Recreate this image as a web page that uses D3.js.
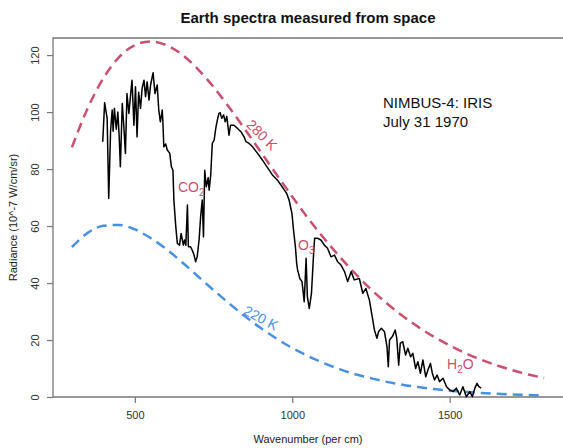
<!DOCTYPE html>
<html><head><meta charset="utf-8">
<script src="https://cdn.jsdelivr.net/npm/d3@7"></script>
<style>body{margin:0;background:#fff}svg{display:block}text{font-family:"Liberation Sans",Arial,Helvetica,sans-serif}</style>
</head><body><svg id="c" width="563" height="448"></svg>
<script>
// Planck curve samples (wavenumber per cm)
const planckNu = [300,350,400,450,500,550,600,650,700,750,800,850,900,950,1000,1050,1100,1150,1200,1250,1300,1350,1400,1450,1500,1550,1600,1650,1700,1750,1800];
const b280 = [87.6,101.3,111.9,119.3,123.5,124.8,123.5,120.2,115.1,108.8,101.6,93.9,86.0,78.1,70.3,62.8,55.8,49.3,43.3,37.8,32.9,28.5,24.6,21.1,18.1,15.4,13.1,11.1,9.4,7.9,6.7];
const b220 = [52.6,57.6,60.1,60.4,58.8,55.8,51.9,47.3,42.4,37.5,32.8,28.3,24.2,20.5,17.2,14.4,11.9,9.8,8.0,6.6,5.3,4.3,3.5,2.8,2.2,1.8,1.4,1.1,0.9,0.7,0.5];
// Measured spectrum
const specNu = [398,404,412,417,423,428,431,435,441,446,450,454,460,465,470,475,481,486,491,497,502,507,512,518,523,529,534,539,545,550,558,564,571,576,581,587,589,592,598,603,611,616,621,624,630,635,642,647,654,658,662,667,670,677,682,688,693,698,704,709,714,718,722,727,733,736,741,746,752,757,762,767,771,776,782,787,792,799,804,815,826,831,837,847,853,863,874,890,905,916,927,937,953,964,975,982,990,999,1004,1010,1014,1017,1024,1031,1038,1044,1048,1054,1061,1067,1071,1081,1091,1102,1112,1123,1134,1144,1155,1166,1176,1187,1197,1213,1224,1234,1245,1254,1261,1269,1274,1283,1293,1301,1305,1309,1318,1327,1332,1338,1343,1351,1360,1367,1376,1383,1392,1399,1407,1415,1424,1431,1439,1445,1452,1460,1468,1479,1490,1500,1511,1521,1532,1542,1553,1564,1572,1580,1587,1593,1600];
const specRad = [89.6,103.3,97.8,69.7,93.7,100.7,93.3,101.3,94,100,92,80.8,103,95,85.5,106.5,99.5,105.4,111.2,95.4,108.9,91.3,107,101.3,108.3,111.2,105.4,110.6,104.2,109.5,113.8,106.5,109.5,100.7,96.6,100.7,96.6,87.8,88.8,86.7,85.5,80.8,79.6,69.1,59.8,53.9,53.3,57.4,53.3,55.1,53.3,67.4,52.7,52.7,51.6,49.8,47.5,49.2,55.1,63.3,69.1,56.2,79.6,73.8,77,72.6,77.9,89,90.2,94.3,97.2,99.5,99.8,97.8,99,96.6,98.5,91.9,95.4,95.4,94.3,93.7,93.1,91.3,89.6,89,87.8,85.5,83.2,81.4,79.6,77.9,76.1,74.4,72.6,71.5,69.1,64.4,58.6,52.7,46.9,44.6,41.6,40.5,33.4,48.7,35.2,31.1,36.4,48.7,55.7,55.7,55.1,53.3,52.2,49.2,49.8,47.5,46.3,44,40.5,44,41.1,41.6,36.4,38.1,34,28.2,23.5,20.6,22.9,24.1,22.9,17.6,10.6,20,21.2,23.5,20.6,11.2,18.8,19.4,14.7,17.1,14.1,15.3,10,12.4,8.3,13,7.1,9.5,11.8,8.3,6,7.7,5.4,6.6,3.6,2.5,1.9,3.1,0.7,3.6,0.1,1.9,0.1,3.1,4.8,3.6,3.1];
const xTicks = [500,1000,1500];
const yTicks = [0,20,40,60,80,100,120];

const RED = "#c9506f", BLUE = "#4a90e2";
const svg = d3.select("#c");
const L = 53, R = 563, T = 38, B = 397;
const x = d3.scaleLinear().domain([240,1860]).range([L,R]);
const y = d3.scaleLinear().domain([0,126]).range([B,T]);

// box
svg.append("path").attr("d",`M${R},${T}H${L}V${B}H${R}`).attr("fill","none").attr("stroke","#777").attr("stroke-width",1.3);

// axes
const xa = svg.append("g").attr("transform",`translate(0,${B})`).call(d3.axisBottom(x).tickValues(xTicks).tickSize(6).tickPadding(8).tickFormat(d3.format("d")));
const ya = svg.append("g").attr("transform",`translate(${L},0)`).call(d3.axisLeft(y).tickValues(yTicks).tickSize(6).tickPadding(4).tickFormat(d3.format("d")));
[xa,ya].forEach(a=>{a.select(".domain").remove();a.selectAll("line").attr("stroke","#777").attr("stroke-width",1.2);a.selectAll("text").attr("fill","#333").style("font-size","11px").style("font-family","Liberation Sans, Arial, sans-serif");});
ya.selectAll("text").attr("transform","translate(-18,0) rotate(-90)").attr("x",0).attr("y",0).attr("dy","0.35em").attr("text-anchor","middle");

// planck curves
const line = (arr)=>d3.line().x((d,i)=>x(planckNu[i])).y((d)=>y(d)).curve(d3.curveMonotoneX)(arr);
svg.append("path").attr("d",line(b280)).attr("fill","none").attr("stroke",RED).attr("stroke-width",2.5).attr("stroke-dasharray","10,6");
svg.append("path").attr("d",line(b220)).attr("fill","none").attr("stroke",BLUE).attr("stroke-width",2.5).attr("stroke-dasharray","10,6");

// spectrum
svg.append("path").attr("d",d3.line().x((d,i)=>x(specNu[i])).y(d=>y(d))(specRad)).attr("fill","none").attr("stroke","#000").attr("stroke-width",1.5).attr("stroke-linejoin","round");

// title & labels
svg.append("text").attr("x",308).attr("y",23).attr("text-anchor","middle").style("font-size","15px").style("font-weight","bold").attr("fill","#111").text("Earth spectra measured from space");
svg.append("text").attr("x",308).attr("y",443).attr("text-anchor","middle").style("font-size","11px").attr("fill","#222").text("Wavenumber (per cm)");
svg.append("text").attr("transform",`translate(17,${(T+B)/2}) rotate(-90)`).attr("text-anchor","middle").style("font-size","11px").attr("fill","#222").text("Radiance (10^-7 W/cm/sr)");

// curve labels
svg.append("text").attr("transform","translate(262,135) rotate(45)").attr("text-anchor","middle").attr("dy","0.35em").style("font-size","14px").attr("fill",RED).text("280 K");
svg.append("text").attr("transform","translate(261,318) rotate(28)").attr("text-anchor","middle").attr("dy","0.35em").style("font-size","14px").attr("fill",BLUE).text("220 K");

function chem(xp,yp,base,sub,after){
  const t = svg.append("text").attr("x",xp).attr("y",yp).style("font-size","14px").attr("fill",RED);
  t.append("tspan").text(base);
  t.append("tspan").attr("dy",4).style("font-size","10px").text(sub);
  if(after) t.append("tspan").attr("dy",-4).text(after);
}
chem(178,192,"CO","2");
chem(298,250,"O","3");
chem(447,369,"H","2","O");

svg.append("text").attr("x",383).attr("y",108).style("font-size","15px").attr("fill","#111").text("NIMBUS-4: IRIS");
svg.append("text").attr("x",383).attr("y",127).style("font-size","15px").attr("fill","#111").text("July 31 1970");
</script></body></html>
